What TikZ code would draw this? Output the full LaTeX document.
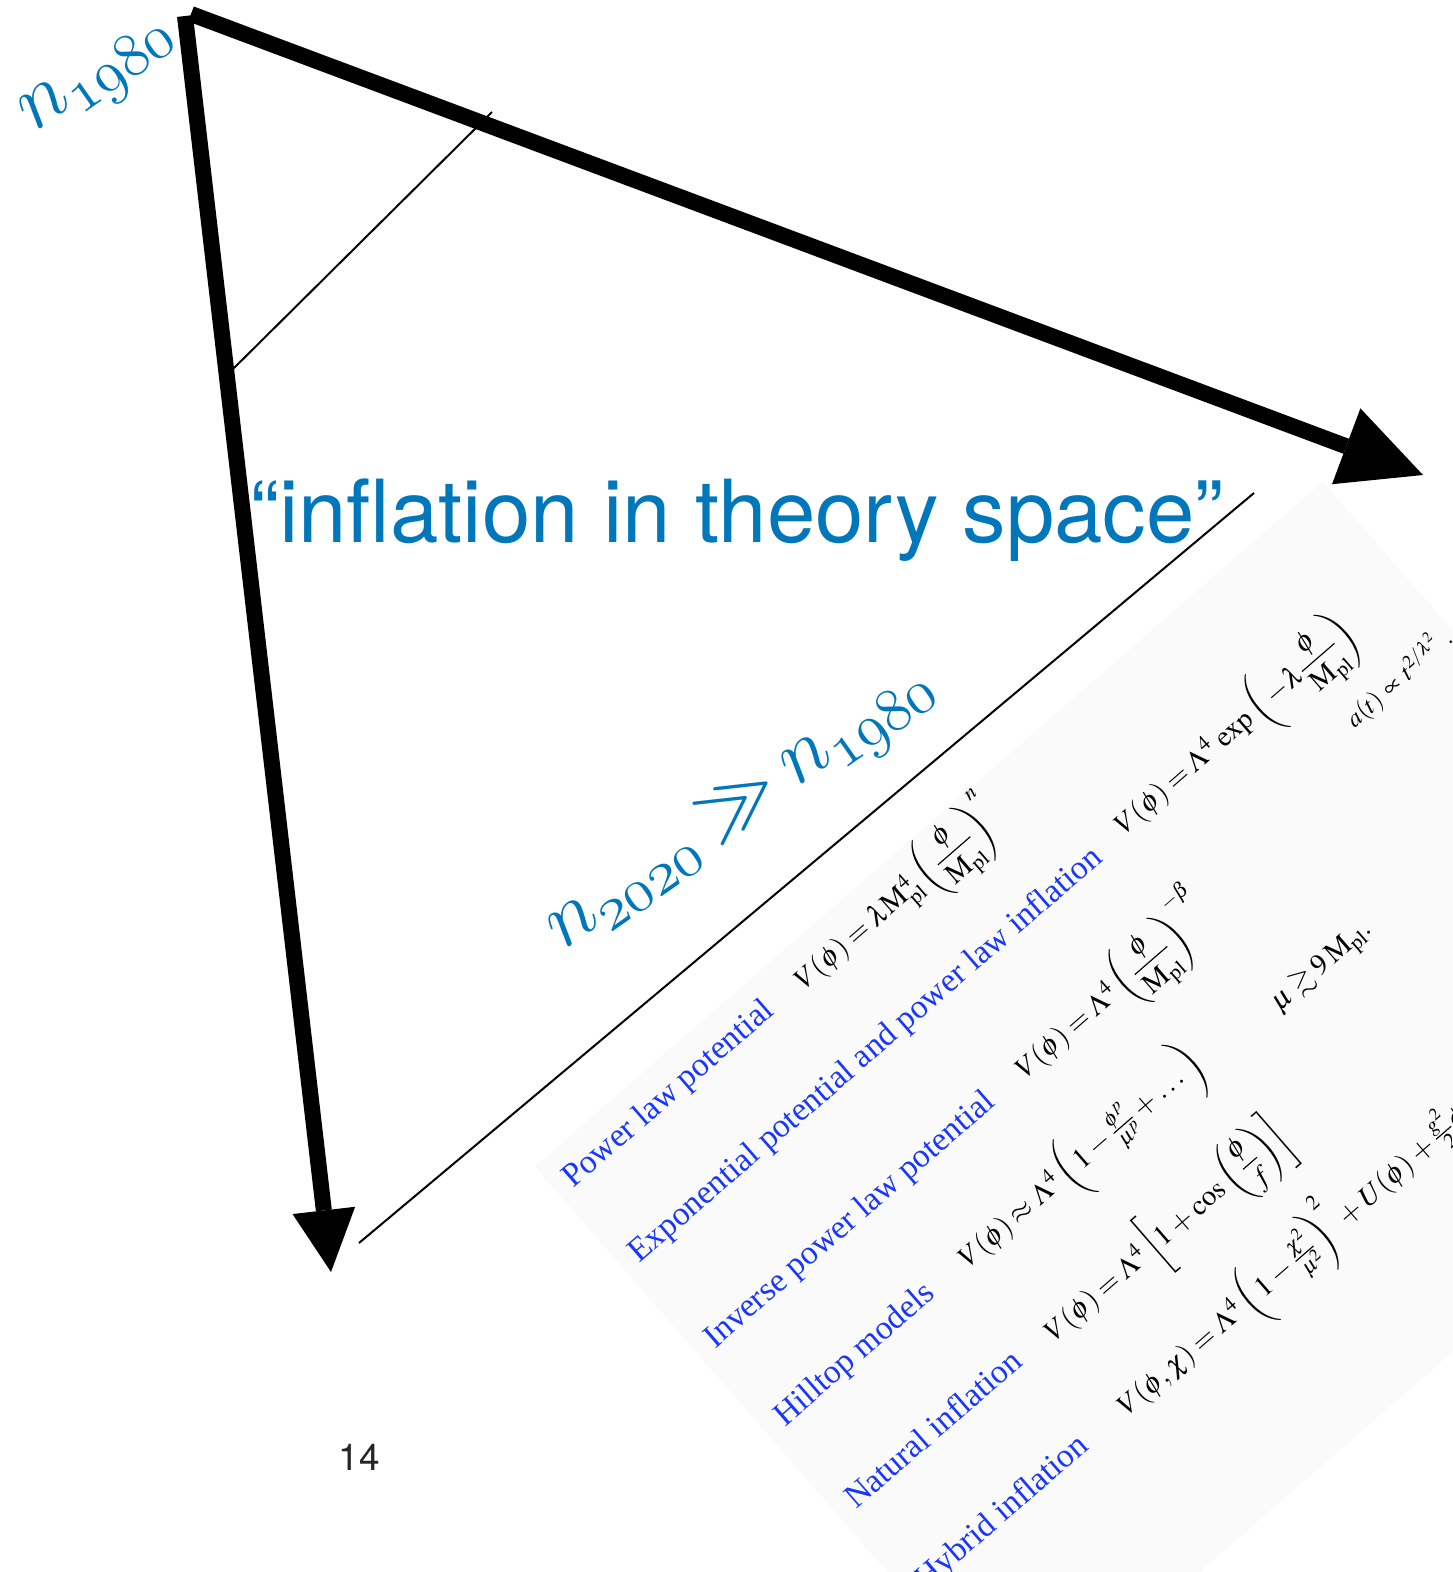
\RequirePackage{fix-cm}
\documentclass[tikz,border=0pt]{standalone}
\usepackage{amsmath,amssymb}
\usepackage{mathptmx}
\usepackage{fontspec}
\setmainfont{Liberation Serif}
\newfontfamily\heros{TeX Gyre Heros}
\DeclareMathAlphabet{\mathosf}{OML}{cmm}{m}{it}
\usetikzlibrary{arrows.meta}
\definecolor{keyblue}{HTML}{0077BB}
\definecolor{linkblue}{RGB}{25,55,250}
\definecolor{panelgray}{HTML}{FAFAFA}
\newcommand{\Mpl}{\mathrm{M}_{\mathrm{pl}}}
\thickmuskip=3.5mu plus 1mu
\medmuskip=3mu plus 1mu
\tikzset{
  bigarrow/.style={line width=16pt, line cap=butt},
  thinline/.style={line width=2pt},
  lbl/.style={anchor=base west, inner sep=0pt, text=linkblue, font=\fontsize{33.5}{40}\selectfont},
  fml/.style={anchor=base west, inner sep=0pt, font=\fontsize{29}{35}\selectfont},
  nlabel/.style={anchor=base west, inner sep=0pt, text=keyblue, rotate=35, font=\fontsize{83}{90}\selectfont},
}
\begin{document}
\begin{tikzpicture}[x=1pt,y=1pt]
\useasboundingbox (0,0) rectangle (1452,-1572);
\clip (0,0) rectangle (1452,-1572);

% rotated screenshot panel
\begin{scope}[shift={(573,-1189)}, rotate=41, transform shape]
  \fill[panelgray] (-14,42) rectangle (1030,-700);
  \node[lbl] (l1) at (0,0) {Power law potential};
  \node[lbl] (l2) at (1,-100) {Exponential potential and power law inflation};
  \node[lbl] (l3) at (2,-214) {Inverse power law potential};
  \node[lbl] (l4) at (4,-319) {Hilltop models};
  \node[lbl] (l5) at (3,-428) {Natural inflation};
  \node[lbl] (l6) at (3,-535) {Hybrid inflation};
  \node[fml] (f1) at (305,-2) {$V(\phi) = \lambda \Mpl^{4}\left(\dfrac{\phi}{\Mpl}\right)^{n}$};
  \node[fml] (f2) at (648,-95) {$V(\phi) = \Lambda^{4}\,\exp\left(-\lambda\dfrac{\phi}{\Mpl}\right)$};
  \node[fml, font=\fontsize{25}{30}\selectfont] (a2) at (892,-165) {$a(t)\mkern5mu{\propto}\mkern5mu t^{2/\lambda^{2}}\ .$};
  \node[fml] (f3) at (413,-214) {$V(\phi) = \Lambda^{4}\left(\dfrac{\phi}{\Mpl}\right)^{-\beta}$};
  \node[fml] (f4) at (246,-320) {$V(\phi) \approx \Lambda^{4}\left(1-\frac{\phi^{p}}{\mu^{p}}+\ldots\vphantom{\dfrac{\phi}{\Mpl}}\right)$};
  \node[fml] (m4) at (650,-330) {$\mu \gtrsim 9\,\Mpl.$};
  \node[fml] (f5) at (263,-432) {$V(\phi) = \Lambda^{4}\left[1+\cos\left(\dfrac{\phi}{f}\right)\right]$};
  \node[fml] (f6) at (269,-536) {$V(\phi,\chi) = \Lambda^{4}\left(1-\frac{\chi^{2}}{\mu^{2}}\vphantom{\dfrac{\phi}{\Mpl}}\right)^{2} + U(\phi) + \frac{g^{2}}{2}\phi^{2}\chi^{2}$};
\end{scope}

% coordinates of the big triangle
\coordinate (topstart) at (191,-14);
\coordinate (leftstart) at (185,-16);
\coordinate (tipR) at (1423,-475);
\coordinate (tipD) at (331,-1272);

% thin lines
\coordinate (t1a) at (232,-370);
\coordinate (t1b) at (492,-112);
\coordinate (t2a) at (359,-1243);
\coordinate (t2b) at (1254,-493);
\draw[thinline] (t1a) -- (t1b);
\draw[thinline] (t2a) -- (t2b);

% big arrows
\draw[bigarrow, -{Triangle[length=82pt,width=81pt,line width=0pt]}] (topstart) -- (tipR);
\draw[bigarrow, -{Triangle[length=62pt,width=63pt,line width=0pt]}] (leftstart) -- (tipD);

% texts
\node[anchor=base, inner sep=0pt, text=keyblue, font=\heros\fontsize{87}{100}\selectfont] (title) at (737,-542) {“inflation in theory space”};
\node[nlabel] (n1980) at (34,-133) {$\mathosf{n}_{\mathosf{1980}}$};
\node[nlabel] (ncmp) at (563,-951) {$\mathosf{n}_{\mathosf{2020}} \gg \mathosf{n}_{\mathosf{1980}}$};
\node[anchor=center, inner sep=0pt, text=black!85, font=\heros\fontsize{37}{44}\selectfont] (page) at (359,-1457) {14};
\end{tikzpicture}
\end{document}
